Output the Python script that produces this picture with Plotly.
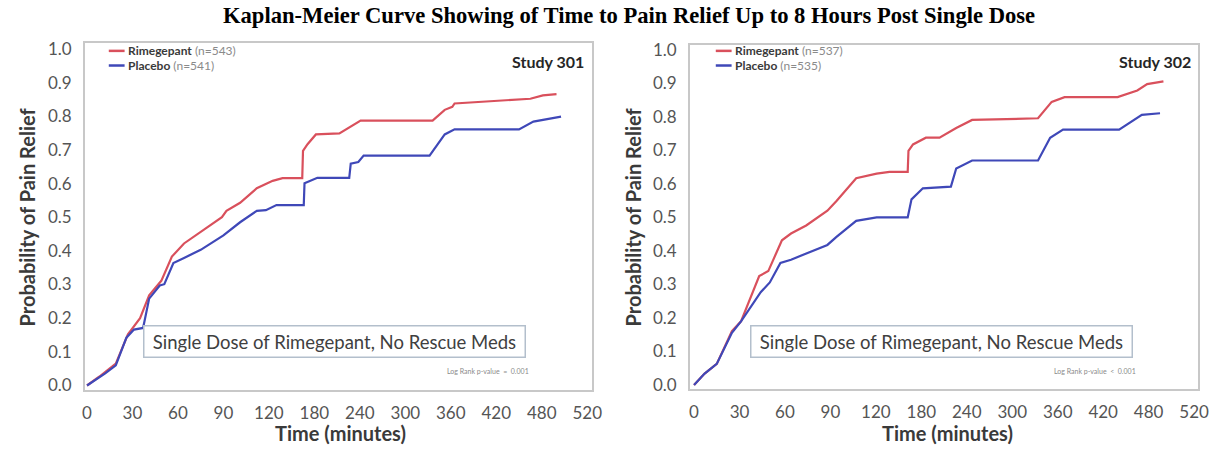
import numpy as np
import plotly.graph_objects as go

# Axis tick labels (minutes) as printed on the time axis
tick_minutes = [0, 30, 60, 90, 120, 180, 240, 300, 360, 420, 480, 520]
y_ticks = [round(0.1 * i, 1) for i in range(11)]

# Study 301
s301_rim_t = [0, 8, 19, 27, 35, 41, 49, 56, 64, 75, 89, 92, 101, 112, 125, 138,
              164, 165, 171, 182, 213, 241, 336, 352, 362, 365, 465, 481, 493]
s301_rim_p = [0, .026, .065, .152, .20, .268, .311, .383, .422, .456, .50, .519,
              .543, .586, .608, .616, .616, .697, .717, .746, .749, .787, .787,
              .819, .828, .838, .852, .862, .866]
s301_pbo_t = [0, 12, 19, 26, 31, 37, 41, 48, 51, 57, 64, 75, 90, 101, 112, 118,
              130, 166, 167, 184, 226, 228, 238, 245, 332, 352, 365, 450, 469, 497]
s301_pbo_p = [0, .036, .06, .142, .166, .171, .258, .297, .301, .364, .379, .403,
              .446, .485, .519, .521, .536, .536, .601, .617, .617, .659, .664,
              .683, .683, .746, .761, .761, .784, .799]

# Study 302
s302_rim_t = [0, 7, 15, 25, 31, 39, 43, 49, 58, 64, 74, 88, 94, 107, 121, 138,
              162, 163, 169, 186, 204, 226, 247, 334, 352, 369, 439, 465, 478, 493]
s302_rim_p = [0, .034, .063, .161, .19, .277, .325, .34, .432, .452, .476, .52,
              .549, .617, .631, .636, .636, .699, .718, .738, .738, .767, .791,
              .796, .845, .859, .859, .879, .898, .906]
s302_pbo_t = [0, 7, 15, 25, 31, 38, 44, 50, 57, 64, 75, 88, 94, 107, 121, 162,
              167, 182, 219, 226, 247, 334, 350, 367, 441, 471, 490]
s302_pbo_p = [0, .034, .063, .156, .19, .238, .277, .306, .364, .374, .394, .418,
              .442, .49, .50, .50, .554, .587, .592, .646, .67, .67, .738, .762,
              .762, .806, .811]

RED = "#d9505c"
BLUE = "#3f48b8"
W, H = 1228, 450
tick_pos = list(range(len(tick_minutes)))


def time_axis(minutes):
    """Place minutes on the evenly spaced, piecewise time axis."""
    return np.interp(minutes, tick_minutes, tick_pos)


def px(x):
    return x / W


def py(y):
    return 1 - y / H


fig = go.Figure()
for t, p, color, xa, ya in [
    (s301_rim_t, s301_rim_p, RED, "x", "y"),
    (s301_pbo_t, s301_pbo_p, BLUE, "x", "y"),
    (s302_rim_t, s302_rim_p, RED, "x2", "y2"),
    (s302_pbo_t, s302_pbo_p, BLUE, "x2", "y2"),
]:
    fig.add_trace(go.Scatter(x=time_axis(t), y=p, mode="lines",
                             line=dict(color=color, width=2.2),
                             xaxis=xa, yaxis=ya, showlegend=False))

tick_font = dict(family="Lato", size=17, color="#555555")
frame = dict(showline=True, mirror=True, linecolor="#c8c8c8", linewidth=2,
             showgrid=False, zeroline=False, ticks="outside",
             tickcolor="rgba(0,0,0,0)", tickfont=tick_font)

xcommon = dict(tickvals=tick_pos, ticktext=[str(v) for v in tick_minutes],
               ticklen=6, **frame)
ycommon = dict(tickvals=y_ticks, tickformat=".1f", ticklen=8, **frame)

fig.update_layout(
    width=W, height=H,
    margin=dict(l=0, r=0, t=0, b=0),
    paper_bgcolor="white", plot_bgcolor="white",
    xaxis=dict(domain=[px(83), px(596)], range=[-0.043, 11.11], anchor="y", **xcommon),
    yaxis=dict(domain=[py(394), py(38)], range=[-0.0145, 1.0174], anchor="x", **ycommon),
    xaxis2=dict(domain=[px(695), px(1209)], range=[-0.087, 11.09], anchor="y2", **xcommon),
    yaxis2=dict(domain=[py(393), py(40)], range=[-0.0131, 1.0146], anchor="x2", **ycommon),
)

ann = []
shapes = []
ann.append(dict(text="<b>Kaplan-Meier Curve Showing of Time to Pain Relief Up to 8 Hours Post Single Dose</b>",
                x=px(633), y=py(10), xanchor="center", yanchor="middle",
                font=dict(family="Liberation Serif", size=22.6, color="black")))

panels = [
    dict(dx=0, study="Study 301", n_rim=543, n_pbo=541, pv="Log Rank p-value  =  0.001", ytx=24),
    dict(dx=614, study="Study 302", n_rim=537, n_pbo=535, pv="Log Rank p-value  <  0.001", ytx=637),
]
for pn in panels:
    dx = pn["dx"]
    ann.append(dict(text="<b>Probability of Pain Relief</b>", textangle=-90,
                    x=px(pn["ytx"]), y=py(216), xanchor="center", yanchor="middle",
                    font=dict(family="Lato", size=20, color="#3a3a3a")))
    ann.append(dict(text="<b>Time (minutes)</b>", x=px(341 + dx), y=py(438),
                    xanchor="center", yanchor="middle",
                    font=dict(family="Lato", size=20, color="#3a3a3a")))
    ann.append(dict(text=f"<b>{pn['study']}</b>", x=px(590 + dx), y=py(57),
                    xanchor="right", yanchor="middle",
                    font=dict(family="Lato", size=16, color="#262626")))
    # legend keys
    for yy, color, name, n in [(46, RED, "Rimegepant", pn["n_rim"]),
                               (61, BLUE, "Placebo", pn["n_pbo"])]:
        shapes.append(dict(type="line", xref="paper", yref="paper",
                           x0=px(107 + dx), x1=px(123 + dx), y0=py(yy), y1=py(yy),
                           line=dict(color=color, width=2.5)))
        ann.append(dict(text=f"<b>{name}</b> <span style='color:#8a8a8a'>(n={n})</span>",
                        x=px(124 + dx), y=py(yy), xanchor="left", yanchor="middle",
                        font=dict(family="Lato", size=12, color="#3a3a3a")))
    ann.append(dict(text="Single Dose of Rimegepant, No Rescue Meds",
                    x=px(335 + dx), y=py(344), xanchor="center", yanchor="middle",
                    width=372, height=22, borderpad=4,
                    bordercolor="#b3bfcc", borderwidth=1.5, bgcolor="white",
                    font=dict(family="Lato", size=18.5, color="#404040")))
    ann.append(dict(text=pn["pv"], x=px(491 + dx), y=py(374),
                    xanchor="center", yanchor="middle",
                    font=dict(family="Lato", size=7, color="#8a8a8a")))

for a in ann:
    a.setdefault("xref", "paper")
    a.setdefault("yref", "paper")
    a.setdefault("showarrow", False)
fig.update_layout(annotations=ann, shapes=shapes)

fig.write_html("out.html")
